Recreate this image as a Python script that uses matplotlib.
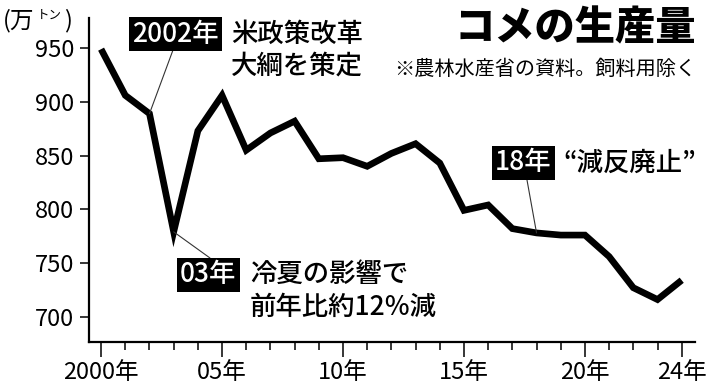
import numpy as np
import matplotlib.pyplot as plt

# rice production (10k tonnes), feed rice excluded
years = np.arange(2000, 2025)
production = [949, 906, 889, 779, 873, 906, 855, 871, 882, 847,
              848, 840, 852, 861, 843, 799, 804, 782, 778, 776,
              776, 756, 727, 716, 734]

yticks = [700, 750, 800, 850, 900, 950]
xticks = [2000, 2005, 2010, 2015, 2020, 2024]
xlabels = ["2000年", "05年", "10年", "15年", "20年", "24年"]

W, H = 714, 387
plt.rcParams['font.family'] = ['Noto Sans CJK JP', 'DejaVu Sans']

fig = plt.figure(figsize=(W / 100, H / 100), dpi=100)
ax = fig.add_axes([89 / W, (H - 342) / H, (695 - 89) / W, (342 - 18) / H])

ax.plot(years, production, color='black', lw=4.8, solid_joinstyle='miter',
        solid_capstyle='butt')

ax.set_xlim(1999.5, 2024.55)
ax.set_ylim(676.5, 978)
ax.spines['top'].set_visible(False)
ax.spines['right'].set_visible(False)
for s in ['left', 'bottom']:
    ax.spines[s].set_linewidth(1.6)

ax.set_yticks(yticks)
ax.set_yticklabels([str(v) for v in yticks], fontsize=17)
ax.set_xticks(xticks)
ax.set_xticklabels(xlabels, fontsize=17)
ax.set_xticks(years, minor=True)
ax.tick_params(axis='y', direction='out', length=6.5, width=1.1, pad=4)
ax.tick_params(axis='x', which='major', direction='out', length=11, width=1.1, pad=3)
ax.tick_params(axis='x', which='minor', direction='out', length=5.5, width=1.1)


def fp(x, y):
    # figure pixel position measured from top-left
    return (x / W, 1 - y / H)


# unit label
fig.text(*fp(3, 21), "(万", fontsize=17, va='center', ha='left')
fig.text(*fp(37, 15), "トン", fontsize=9, va='center', ha='left')
fig.text(*fp(64, 21), ")", fontsize=17, va='center', ha='left')

# title
fig.text(*fp(696, 28), "コメの生産量", fontsize=29, fontweight='black',
         va='center', ha='right')
fig.text(*fp(696, 69), "※農林水産省の資料。飼料用除く", fontsize=14.5,
         va='center', ha='right')

box = dict(boxstyle='square,pad=0.12', fc='black', ec='none')


def note(i, tag, tag_xy, text_xy, text, line_xy):
    fig.text(*fp(*tag_xy), tag, fontsize=19, color='white', fontweight='medium',
             va='center', ha='left', bbox=box)
    fig.text(*fp(*text_xy), text, fontsize=19, va='center', ha='left',
             fontweight='medium', linespacing=1.25)
    ax.annotate('', xy=(years[i], production[i]),
                xytext=(line_xy[0], H - line_xy[1]), textcoords='figure pixels',
                arrowprops=dict(arrowstyle='-', lw=0.8, color='#333333',
                                shrinkA=0, shrinkB=0))


note(2, "2002年", (132, 34), (231, 50), "米政策改革\n大綱を策定", (173, 50))
note(3, "03年", (180, 275), (250, 291), "冷夏の影響で\n前年比約12%減", (210, 258))
note(18, "18年", (495, 163), (563, 163), "“減反廃止”", (527, 180))

fig.savefig("out.png", dpi=100)
